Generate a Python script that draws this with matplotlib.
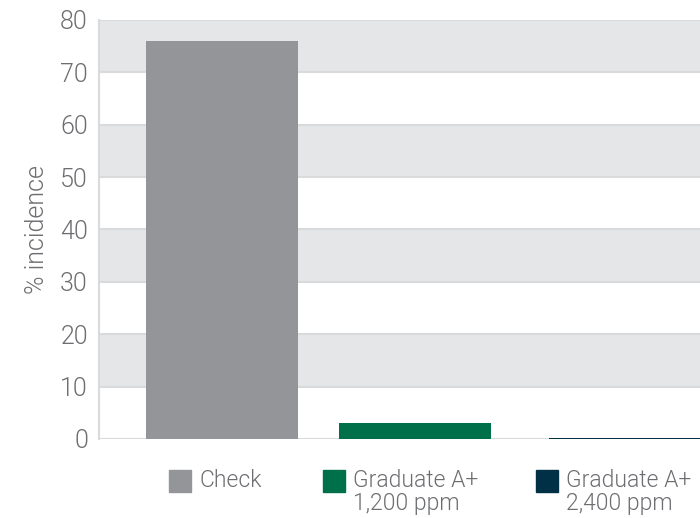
import matplotlib.pyplot as plt
from matplotlib.patches import Rectangle

plt.rcParams['font.family'] = ['Roboto', 'DejaVu Sans']

treatments = ['Check', 'Graduate A+\n1,200 ppm', 'Graduate A+\n2,400 ppm']
incidence = [76, 3, 0.15]
colors = ['#939598', '#00704a', '#003045']
yticks = [0, 10, 20, 30, 40, 50, 60, 70, 80]

W, H = 700, 518
fig = plt.figure(figsize=(7, 5.18), dpi=100)
# axes in pixel terms: left 99, right 700, bottom 439, top 20
ax = fig.add_axes([99 / W, 1 - 439 / H, (701 - 99) / W, (439 - 20) / H])

unit = 193.0
pos = [0, 1, 2.088]
ax.set_xlim(-123 / unit, (701 - 222) / unit)
ax.set_ylim(0, 80)

# alternating bands
for lo in range(10, 80, 20):
    ax.axhspan(lo, lo + 10, color='#e5e6e8', zorder=0, lw=0)
for t in yticks[1:]:
    ax.axhline(t, color='#d9dadb', lw=1.5, zorder=1)

ax.bar(pos, incidence, width=152 / unit, color=colors, zorder=3)
ax.axhline(0, color='#d9dadb', lw=1.5, zorder=2)

for s in ['top', 'right', 'bottom']:
    ax.spines[s].set_visible(False)
ax.spines['left'].set_color('#d9dadb')
ax.spines['left'].set_linewidth(1.5)

txt = '#6d6e71'
ax.set_xticks([])
ax.set_yticks(yticks)
ax.tick_params(axis='y', length=0, pad=8, labelsize=18, labelcolor=txt)
for lab in ax.get_yticklabels():
    lab.set_fontweight(300)
ax.set_ylabel('% incidence', fontsize=18, color=txt, fontweight=300, labelpad=8)

# legend below the axes
leg_x = [169, 323, 536]
for x, c, lab in zip(leg_x, colors, treatments):
    fig.patches.append(Rectangle((x / W, 1 - 492 / H), 22 / W, 22 / H,
                                 transform=fig.transFigure, color=c))
    fig.text((x + 30) / W, 1 - 469 / H, lab, fontsize=16.5, color=txt,
             fontweight=300, va='top', ha='left', linespacing=1.0)

fig.savefig('out.png', dpi=100)
